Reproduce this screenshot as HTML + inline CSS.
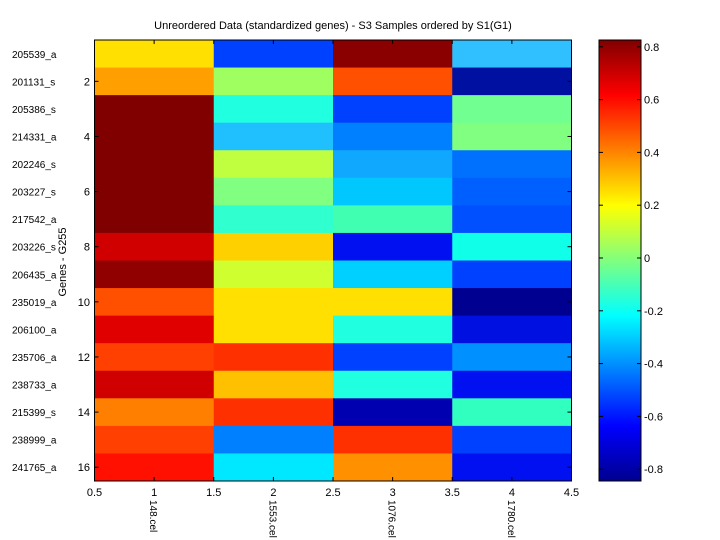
<!DOCTYPE html>
<html><head><style>body{margin:0;background:#fff}svg{display:block;font-family:"Liberation Sans",sans-serif}</style></head>
<body>
<svg width="720" height="540" xmlns="http://www.w3.org/2000/svg">
<defs>
<linearGradient id="jet" x1="0" y1="1" x2="0" y2="0">
<stop offset="0" stop-color="#00008f"/>
<stop offset="0.125" stop-color="#0000ff"/>
<stop offset="0.375" stop-color="#00ffff"/>
<stop offset="0.625" stop-color="#ffff00"/>
<stop offset="0.875" stop-color="#ff0000"/>
<stop offset="1" stop-color="#800000"/>
</linearGradient>
</defs>
<text x="333" y="29" font-size="11" text-anchor="middle">Unreordered Data (standardized genes) - S3 Samples ordered by S1(G1)</text>
<g id="hm"></g>
<rect x="94.5" y="40" width="477" height="441" fill="none" stroke="#000"/>
<rect x="599" y="40" width="42" height="441" fill="url(#jet)" stroke="#000"/>
<g font-size="11" id="cb"></g>
<g font-size="10" id="lab"></g>
<text transform="translate(66,262) rotate(-90)" font-size="11" text-anchor="middle">Genes - G255</text>
</svg>
<script>
const C=[["#ffe000","#0040ff","#8a0000","#30c0ff"],["#ffa000","#a0ff60","#ff5000","#0010a0"],["#800000","#20ffe0","#0040ff","#70ff90"],["#800000","#20c0ff","#0080ff","#80ff80"],["#800000","#c0ff40","#10a8ff","#0070ff"],["#800000","#80ff80","#00c8ff","#0060ff"],["#800000","#30ffd0","#40ffb0","#0050ff"],["#d00000","#ffd000","#0010f0","#10ffe8"],["#900000","#d0ff30","#00d0ff","#0040ff"],["#ff5000","#ffe000","#ffe000","#000090"],["#e00000","#ffe000","#20ffe0","#0010e0"],["#ff4000","#ff3000","#0040ff","#0090ff"],["#d00000","#ffc000","#20ffe0","#0010f0"],["#ff8000","#ff3000","#0000b0","#30ffc0"],["#ff4000","#0080ff","#ff3000","#0040ff"],["#ff1000","#00e8ff","#ff9000","#0010f0"]];
const G=["205539_a","201131_s","205386_s","214331_a","202246_s","203227_s","217542_a","203226_s","206435_a","235019_a","206100_a","235706_a","238733_a","215399_s","238999_a","241765_a"];
const ns="http://www.w3.org/2000/svg";
function el(p,t,a,txt){const e=document.createElementNS(ns,t);for(const k in a)e.setAttribute(k,a[k]);if(txt!==undefined)e.textContent=txt;p.appendChild(e);return e;}
const hm=document.getElementById('hm'),lab=document.getElementById('lab'),cb=document.getElementById('cb');
const x0=94.5,w=119.25,y0=40,h=441/16;
C.forEach((r,i)=>r.forEach((c,j)=>el(hm,'rect',{x:x0+j*w,y:y0+i*h,width:w+0.5,height:h+0.5,fill:c})));
G.forEach((g,i)=>{const y=y0+(i+0.5)*h;el(lab,'text',{x:12,y:y+4},g);
if(i%2==1){el(lab,'text',{x:90,y:y+4,'text-anchor':'end','font-size':11},String(i+1));el(lab,'line',{x1:x0,x2:x0+4,y1:y,y2:y,stroke:'#000'});el(lab,'line',{x1:x0+477,x2:x0+473,y1:y,y2:y,stroke:'#000'});}});
["0.5","1","1.5","2","2.5","3","3.5","4","4.5"].forEach((t,k)=>{const x=x0+k*w/2;el(lab,'text',{x:x,y:496,'text-anchor':'middle','font-size':11},t);el(lab,'line',{x1:x,x2:x,y1:481,y2:477,stroke:'#000'});el(lab,'line',{x1:x,x2:x,y1:40,y2:44,stroke:'#000'});});
["148.cel","1553.cel","1076.cel","1780.cel"].forEach((t,j)=>{const x=x0+(j+0.5)*w;el(lab,'text',{transform:`translate(${x-4},500) rotate(90)`,'font-size':10},t);});
[0.8,0.6,0.4,0.2,0,-0.2,-0.4,-0.6,-0.8].forEach(v=>{const y=258-v*264;el(cb,'line',{x1:599,x2:603,y1:y,y2:y,stroke:'#000'});el(cb,'line',{x1:641,x2:637,y1:y,y2:y,stroke:'#000'});el(cb,'text',{x:644,y:y+4},String(v));});
</script>
</body></html>
